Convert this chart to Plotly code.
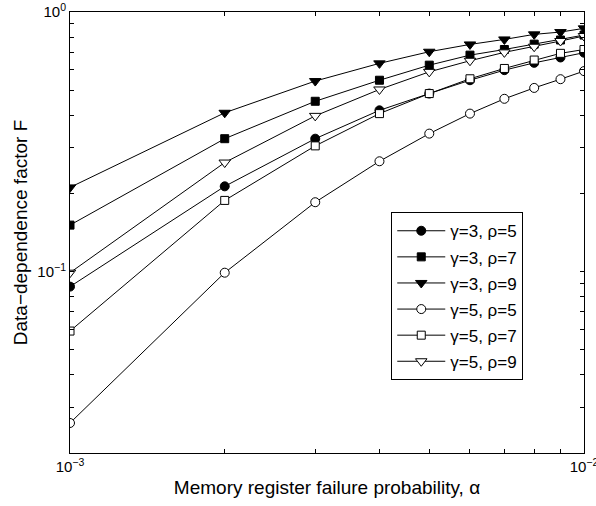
import plotly.graph_objects as go
import numpy as np

alpha = [1e-3, 2e-3, 3e-3, 4e-3, 5e-3, 6e-3, 7e-3, 8e-3, 9e-3, 1e-2]

g3_r5 = [0.0875, 0.213, 0.325, 0.418, 0.485, 0.546, 0.597, 0.637, 0.668, 0.697]
g3_r7 = [0.151, 0.325, 0.453, 0.546, 0.624, 0.682, 0.717, 0.752, 0.780, 0.815]
g3_r9 = [0.211, 0.409, 0.542, 0.634, 0.703, 0.750, 0.784, 0.820, 0.837, 0.865]
g5_r5 = [0.0261, 0.099, 0.185, 0.266, 0.340, 0.406, 0.463, 0.510, 0.551, 0.592]
g5_r7 = [0.059, 0.188, 0.305, 0.406, 0.485, 0.553, 0.606, 0.653, 0.693, 0.717]
g5_r9 = [0.099, 0.263, 0.398, 0.503, 0.588, 0.649, 0.699, 0.735, 0.773, 0.808]

series = [
    ("γ=3, ρ=5", g3_r5, "circle", "black", 9),
    ("γ=3, ρ=7", g3_r7, "square", "black", 8),
    ("γ=3, ρ=9", g3_r9, "triangle-down", "black", 10),
    ("γ=5, ρ=5", g5_r5, "circle", "white", 9),
    ("γ=5, ρ=7", g5_r7, "square", "white", 8),
    ("γ=5, ρ=9", g5_r9, "triangle-down", "white", 10),
]

fig = go.Figure()
for i, (name, ys, sym, fill, sz) in enumerate(series):
    fig.add_trace(go.Scatter(
        x=alpha, y=ys, name=name, mode="lines+markers", legendgroup=f"g{i}",
        line=dict(color="black", width=1),
        marker=dict(symbol=sym, size=sz, color=fill, line=dict(color="black", width=1)),
    ))

# tick positions
x_major = [1e-3, 1e-2]
x_minor = [k * 1e-3 for k in range(2, 10)]
y_major = [1e-1, 1.0]
y_minor = [k * 1e-2 for k in range(2, 10)] + [k * 1e-1 for k in range(2, 10)]

xt_vals = x_major + x_minor
xt_text = ["10<sup>−3</sup>", "10<sup>−2</sup>"] + [""] * len(x_minor)
yt_vals = y_major + y_minor
yt_text = ["10<sup>−1</sup>", "10<sup>0</sup>"] + [""] * len(y_minor)

font_family = "Liberation Sans, Arial, sans-serif"

fig.update_xaxes(
    type="log", range=[-3, -2], automargin=False, ticklabeloverflow="allow",
    tickvals=xt_vals, ticktext=xt_text,
    ticks="inside", ticklen=4, tickcolor="black", tickwidth=1,
    showline=True, linecolor="black", linewidth=1, mirror="ticks",
    showgrid=False, zeroline=False,
    tickfont=dict(size=15, color="black"),
    title=dict(text="Memory register failure probability, α", font=dict(size=19, color="black"), standoff=6),
)
fig.update_yaxes(
    type="log", range=[np.log10(0.02), 0], automargin=False, ticklabeloverflow="allow",
    tickvals=yt_vals, ticktext=yt_text,
    ticks="inside", ticklen=4, tickcolor="black", tickwidth=1,
    showline=True, linecolor="black", linewidth=1, mirror="ticks",
    showgrid=False, zeroline=False,
    tickfont=dict(size=15, color="black"),
    title=dict(text="Data−dependence factor F", font=dict(size=19, color="black"), standoff=4),
)

fig.update_layout(
    width=596, height=506,
    margin=dict(l=70, r=12, t=12, b=53),
    paper_bgcolor="white", plot_bgcolor="white",
    font=dict(family=font_family, color="black"),
    showlegend=True,
    legend=dict(
        x=0.625, y=0.546, xanchor="left", yanchor="top",
        bgcolor="white", bordercolor="black", borderwidth=1,
        font=dict(size=17, color="black"),
        tracegroupgap=1, itemsizing="trace", itemwidth=48,
    ),
)

fig.write_html("out.html")
